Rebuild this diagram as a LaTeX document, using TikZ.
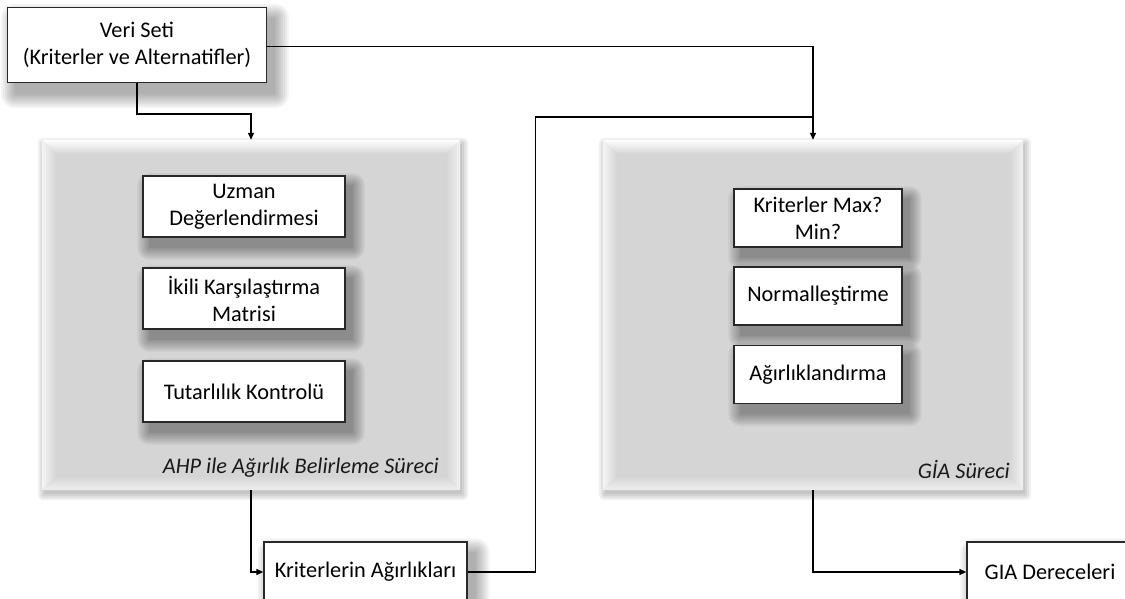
\documentclass[tikz,border=0pt]{standalone}
\usepackage{fontspec}
\setmainfont{Carlito}
\usetikzlibrary{arrows.meta,calc}
\pgfdeclarelayer{bgl}\pgfdeclarelayer{l0}\pgfdeclarelayer{l1}\pgfdeclarelayer{l2}
\pgfsetlayers{bgl,l0,l1,l2,main}
\definecolor{panelgray}{RGB}{213,213,213}
\definecolor{edgecol}{RGB}{40,40,40}
\tikzset{
 wbox/.style={draw=edgecol,line width=1.3pt,fill=white,align=center,inner sep=2pt,font=\fontsize{22.3}{27}\selectfont,text=black},
 panelbox/.style={fill=panelgray,inner sep=0pt},
 conn/.style={line width=1.5pt,draw=black},
 arr/.style={conn,-{Triangle[length=7pt,width=6pt]}},
 plabel/.style={font=\fontsize{22.3}{27}\selectfont\itshape,anchor=base east,text=black!90}
}
\newcommand{\softshadow}[5]{%
 \foreach \e in {0,2,...,#4}{\fill[black,opacity=#5,rounded corners=\e pt] ($(#1.north west)+(#2-\e,#3-\e)$) rectangle ($(#1.south east)+(#2+\e,#3+\e)$);}}
\newcommand{\bevel}[1]{%
 \shade[top color=white, bottom color=panelgray] (#1.north west) -- (#1.north east) -- ($(#1.north east)+(-14,14)$) -- ($(#1.north west)+(14,14)$) -- cycle;
 \shade[left color=gray!8, right color=panelgray] (#1.north west) -- ($(#1.north west)+(14,14)$) -- ($(#1.south west)+(14,-14)$) -- (#1.south west) -- cycle;
 \shade[left color=panelgray, right color=gray!10] (#1.north east) -- ($(#1.north east)+(-14,14)$) -- ($(#1.south east)+(-14,-14)$) -- (#1.south east) -- cycle;
 \shade[top color=panelgray, bottom color=gray!12] (#1.south west) -- ($(#1.south west)+(14,-14)$) -- ($(#1.south east)+(-14,-14)$) -- (#1.south east) -- cycle;}
\begin{document}
\begin{tikzpicture}[x=1pt,y=-1pt]
\begin{pgfonlayer}{bgl}
\fill[white] (0,0) rectangle (1125,599);
\end{pgfonlayer}
\useasboundingbox (0,0) rectangle (1125,599);
% panels
\begin{pgfonlayer}{l1}
 \node[panelbox,minimum width=418pt,minimum height=350pt] (ahp) at (251,315) {};
 \bevel{ahp}
 \node[panelbox,minimum width=420pt,minimum height=350pt] (gia) at (813,315) {};
 \bevel{gia}
\end{pgfonlayer}
% boxes
\node[wbox,minimum width=259pt,minimum height=75pt] (veri) at (137,45) {Veri Seti\\(Kriterler ve Alternatifler)};
\node[wbox,minimum width=202pt,minimum height=61pt] (a1) at (244,206.5) {Uzman\\Değerlendirmesi};
\node[wbox,minimum width=202pt,minimum height=61pt] (a2) at (244,298.5) {İkili Karşılaştırma\\Matrisi};
\node[wbox,minimum width=202pt,minimum height=61pt] (a3) at (244,391.5) {Tutarlılık Kontrolü};
\node[wbox,minimum width=168pt,minimum height=58pt] (g1) at (818,218) {Kriterler Max?\\Min?};
\node[wbox,minimum width=168pt,minimum height=58pt] (g2) at (818,296) {Normalleştirme};
\node[wbox,minimum width=168pt,minimum height=58pt] (g3) at (818,374.5) {Ağırlıklandırma};
\node[wbox,minimum width=203pt,minimum height=60pt] (kw) at (365.5,572) {Kriterlerin Ağırlıkları};
\node[wbox,minimum width=166pt,minimum height=60pt] (gd) at (1050,572) {GIA Dereceleri};
% panel labels
\node[plabel] (ahplab) at ($(ahp.south east)+(-18,-17)$) {AHP ile Ağırlık Belirleme Süreci};
\node[plabel] (gialab) at ($(gia.south east)+(-10,-12)$) {GİA Süreci};
% shadows
\begin{pgfonlayer}{l0}
 \softshadow{ahp}{2}{4}{6}{0.06}
 \softshadow{gia}{2}{4}{6}{0.06}
 \softshadow{veri}{8}{11}{14}{0.045}
 \softshadow{kw}{8}{11}{14}{0.045}
 \softshadow{gd}{8}{11}{14}{0.045}
\end{pgfonlayer}
\begin{pgfonlayer}{l2}
 \softshadow{a1}{7}{10}{12}{0.055}
 \softshadow{a2}{7}{10}{12}{0.055}
 \softshadow{a3}{7}{10}{12}{0.055}
 \softshadow{g1}{7}{10}{12}{0.055}
 \softshadow{g2}{7}{10}{12}{0.055}
 \softshadow{g3}{7}{10}{12}{0.055}
\end{pgfonlayer}
% connectors
\path (gia.north) ++(0,-23) coordinate (j);
\draw[arr] (veri.south) -- ++(0,31) -| (ahp.north);
\draw[arr] ([yshift=-1.5pt]veri.east) -| (gia.north);
\draw[conn] (kw.east) -- ++(68,0) |- (j);
\draw[arr] (ahp.south) |- (kw.west);
\draw[arr] (gia.south) |- (gd.west);
\end{tikzpicture}
\end{document}
